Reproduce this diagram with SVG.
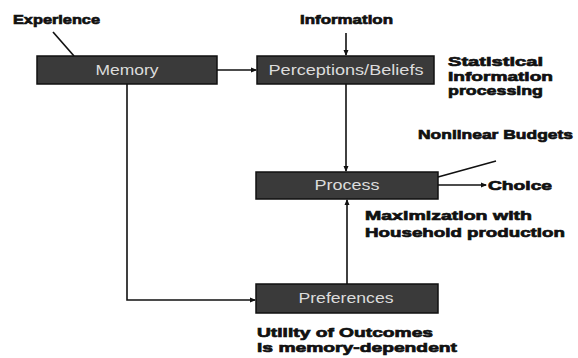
<svg xmlns="http://www.w3.org/2000/svg" width="578" height="358" viewBox="0 0 578 358">
<defs>
<marker id="ah" markerWidth="6" markerHeight="6" refX="5" refY="3" orient="auto" markerUnits="userSpaceOnUse">
<path d="M0,0.5 L6,3 L0,5.5 Z" fill="#111"/>
</marker>
<style>
.box{fill:#3a3a3a;stroke:#111;stroke-width:1.5}
.bt{font-family:"Liberation Sans",Arial,sans-serif;font-size:14px;fill:#dcdcdc;text-anchor:middle}
.lb{font-family:"Liberation Sans",Arial,sans-serif;font-size:13.5px;font-weight:bold;fill:#111;stroke:#111;stroke-width:0.7}
.ln{stroke:#111;stroke-width:1.6;fill:none}
</style>
</defs>
<rect width="578" height="358" fill="#fff"/>
<g id="connectors">
<line class="ln" x1="53" y1="32" x2="74" y2="56"/>
<line class="ln" x1="217" y1="70" x2="256" y2="70" marker-end="url(#ah)"/>
<line class="ln" x1="346" y1="33" x2="346" y2="55" marker-end="url(#ah)"/>
<line class="ln" x1="346" y1="84" x2="346" y2="171" marker-end="url(#ah)"/>
<line class="ln" x1="347" y1="284" x2="347" y2="200" marker-end="url(#ah)"/>
<polyline class="ln" points="127,84 127,300 255,300" marker-end="url(#ah)"/>
<line class="ln" x1="496" y1="161" x2="438" y2="177"/>
<line class="ln" x1="438" y1="185" x2="486" y2="185" marker-end="url(#ah)"/>
</g>
<g id="memory"><rect class="box" x="37" y="56" width="180" height="28"/><text class="bt" x="127" y="75" textLength="63" lengthAdjust="spacingAndGlyphs">Memory</text></g>
<g id="perceptions"><rect class="box" x="257" y="56" width="177" height="28"/><text class="bt" x="346" y="75" textLength="155" lengthAdjust="spacingAndGlyphs">Perceptions/Beliefs</text></g>
<g id="process"><rect class="box" x="256" y="172" width="182" height="27"/><text class="bt" x="347" y="190" textLength="65" lengthAdjust="spacingAndGlyphs">Process</text></g>
<g id="preferences"><rect class="box" x="256" y="284" width="182" height="29"/><text class="bt" x="346" y="303" textLength="95" lengthAdjust="spacingAndGlyphs">Preferences</text></g>
<g id="labels">
<text class="lb" x="13" y="24" textLength="87" lengthAdjust="spacingAndGlyphs">Experience</text>
<text class="lb" x="300" y="24" textLength="93" lengthAdjust="spacingAndGlyphs">Information</text>
<text class="lb" x="448" y="66" textLength="95" lengthAdjust="spacingAndGlyphs">Statistical</text>
<text class="lb" x="448" y="81" textLength="105" lengthAdjust="spacingAndGlyphs">Information</text>
<text class="lb" x="448" y="95" textLength="95" lengthAdjust="spacingAndGlyphs">processing</text>
<text class="lb" x="418" y="139" textLength="155" lengthAdjust="spacingAndGlyphs">Nonlinear  Budgets</text>
<text class="lb" x="488" y="190" textLength="64" lengthAdjust="spacingAndGlyphs">Choice</text>
<text class="lb" x="365" y="220" textLength="167" lengthAdjust="spacingAndGlyphs">Maximization with</text>
<text class="lb" x="365" y="237" textLength="200" lengthAdjust="spacingAndGlyphs">Household production</text>
<text class="lb" x="257" y="337" textLength="176" lengthAdjust="spacingAndGlyphs">Utility of Outcomes</text>
<text class="lb" x="257" y="352" textLength="200" lengthAdjust="spacingAndGlyphs">is memory-dependent</text>
</g>
</svg>
